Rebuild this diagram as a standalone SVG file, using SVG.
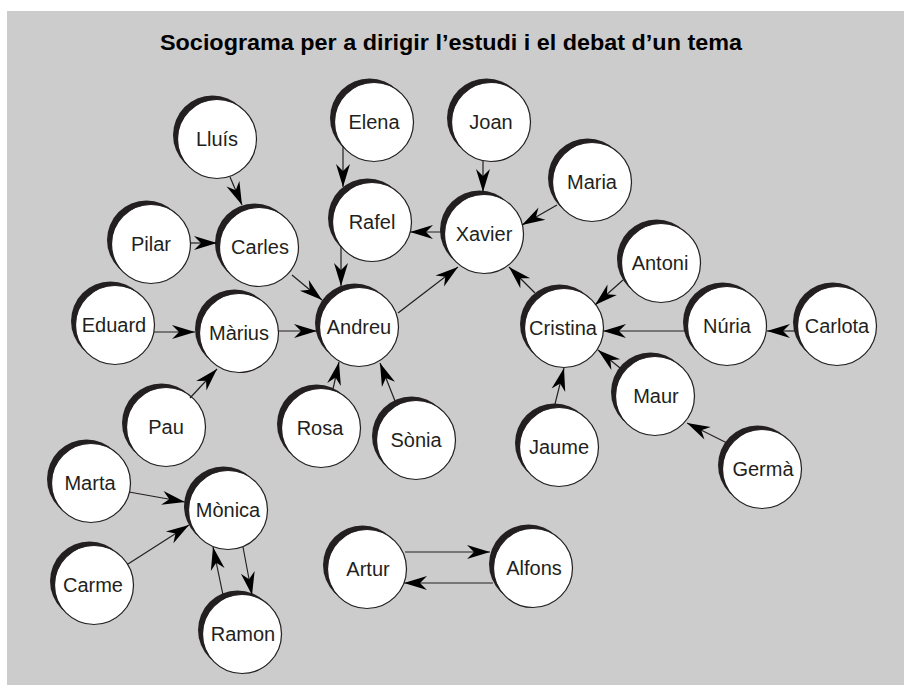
<svg xmlns="http://www.w3.org/2000/svg" width="904" height="685" viewBox="0 0 904 685">
<style>
.sh{fill:#231f20}
.wc{fill:#ffffff;stroke:#231f20;stroke-width:1.2}
.lb{font-family:"Liberation Sans",Arial,sans-serif;font-size:20px;fill:#231f20;text-anchor:middle}
.ttl{font-family:"Liberation Sans",Arial,sans-serif;font-size:22px;font-weight:bold;fill:#000;text-anchor:middle}
.cn line{stroke:#231f20;stroke-width:1.2;marker-end:url(#ah)}
</style>
<defs>
<marker id="ah" markerUnits="userSpaceOnUse" viewBox="-24 -8 25 16" refX="0" refY="0" markerWidth="25" markerHeight="16" orient="auto">
<path d="M0,0 L-23,-7 L-16,0 L-23,7 Z" fill="#000"/>
</marker>
<g id="nd"><circle class="sh" cx="-4.5" cy="-4" r="39.5"/><circle class="wc" cx="0" cy="0" r="39.5"/></g>
</defs>
<rect x="0" y="0" width="904" height="685" fill="#ffffff"/>
<rect x="7" y="11" width="897" height="674" fill="#cccccc"/>
<text class="ttl" x="451" y="50" textLength="582" lengthAdjust="spacingAndGlyphs">Sociograma per a dirigir l’estudi i el debat d’un tema</text>

<g id="nodes">
<g id="n-lluis"><use href="#nd" x="217" y="139"/><text class="lb" x="217" y="146">Lluís</text></g>
<g id="n-elena"><use href="#nd" x="374" y="122"/><text class="lb" x="374" y="129">Elena</text></g>
<g id="n-joan"><use href="#nd" x="491" y="122"/><text class="lb" x="491" y="129">Joan</text></g>
<g id="n-maria"><use href="#nd" x="592" y="182"/><text class="lb" x="592" y="189">Maria</text></g>
<g id="n-pilar"><use href="#nd" x="151" y="244"/><text class="lb" x="151" y="251">Pilar</text></g>
<g id="n-carles"><use href="#nd" x="259" y="247"/><text class="lb" x="260" y="254">Carles</text></g>
<g id="n-rafel"><use href="#nd" x="372" y="222"/><text class="lb" x="372" y="229">Rafel</text></g>
<g id="n-xavier"><use href="#nd" x="484" y="234"/><text class="lb" x="484" y="241">Xavier</text></g>
<g id="n-antoni"><use href="#nd" x="661" y="263"/><text class="lb" x="660" y="270">Antoni</text></g>
<g id="n-eduard"><use href="#nd" x="115" y="325"/><text class="lb" x="114" y="332">Eduard</text></g>
<g id="n-marius"><use href="#nd" x="239" y="333"/><text class="lb" x="239" y="340">Màrius</text></g>
<g id="n-andreu"><use href="#nd" x="359" y="327"/><text class="lb" x="359" y="334">Andreu</text></g>
<g id="n-cristina"><use href="#nd" x="564" y="328"/><text class="lb" x="563" y="335">Cristina</text></g>
<g id="n-nuria"><use href="#nd" x="727" y="326"/><text class="lb" x="727" y="333">Núria</text></g>
<g id="n-carlota"><use href="#nd" x="837" y="326"/><text class="lb" x="837" y="333">Carlota</text></g>
<g id="n-pau"><use href="#nd" x="166" y="427"/><text class="lb" x="166" y="434">Pau</text></g>
<g id="n-rosa"><use href="#nd" x="321" y="428"/><text class="lb" x="320" y="435">Rosa</text></g>
<g id="n-sonia"><use href="#nd" x="416" y="440"/><text class="lb" x="416" y="447">Sònia</text></g>
<g id="n-maur"><use href="#nd" x="655" y="396"/><text class="lb" x="656" y="403">Maur</text></g>
<g id="n-jaume"><use href="#nd" x="559" y="447"/><text class="lb" x="559" y="454">Jaume</text></g>
<g id="n-germa"><use href="#nd" x="762" y="469"/><text class="lb" x="763" y="476">Germà</text></g>
<g id="n-marta"><use href="#nd" x="91" y="483"/><text class="lb" x="90" y="490">Marta</text></g>
<g id="n-monica"><use href="#nd" x="228" y="510"/><text class="lb" x="228" y="517">Mònica</text></g>
<g id="n-carme"><use href="#nd" x="94" y="585"/><text class="lb" x="93" y="592">Carme</text></g>
<g id="n-ramon"><use href="#nd" x="242" y="634"/><text class="lb" x="243" y="641">Ramon</text></g>
<g id="n-artur"><use href="#nd" x="367" y="569"/><text class="lb" x="368" y="576">Artur</text></g>
<g id="n-alfons"><use href="#nd" x="533" y="568"/><text class="lb" x="534" y="575">Alfons</text></g>
</g>

<g id="connectors" class="cn">
<line x1="230" y1="177" x2="242" y2="205"/>
<line x1="190" y1="243" x2="217" y2="243"/>
<line x1="292" y1="275" x2="322" y2="300"/>
<line x1="343" y1="146" x2="343" y2="187"/>
<line x1="341" y1="246" x2="341" y2="286"/>
<line x1="483" y1="161" x2="483" y2="192"/>
<line x1="557" y1="205" x2="522" y2="225"/>
<line x1="445" y1="232" x2="410" y2="232"/>
<line x1="398" y1="313" x2="458" y2="267"/>
<line x1="154" y1="332" x2="195" y2="332"/>
<line x1="278" y1="331" x2="317" y2="331"/>
<line x1="190" y1="398" x2="217" y2="369"/>
<line x1="333" y1="389" x2="339" y2="362"/>
<line x1="395" y1="401" x2="380" y2="363"/>
<line x1="535" y1="293" x2="509" y2="267"/>
<line x1="623" y1="280" x2="595" y2="305"/>
<line x1="686" y1="331" x2="603" y2="331"/>
<line x1="796" y1="331" x2="767" y2="331"/>
<line x1="620" y1="368" x2="598" y2="350"/>
<line x1="554" y1="408" x2="564" y2="368"/>
<line x1="727" y1="443" x2="687" y2="423"/>
<line x1="129" y1="492" x2="185" y2="502"/>
<line x1="128" y1="564" x2="189" y2="525"/>
<line x1="243" y1="547" x2="252" y2="595"/>
<line x1="223" y1="595" x2="213" y2="547"/>
<line x1="405" y1="552" x2="490" y2="552"/>
<line x1="493" y1="583" x2="404" y2="583"/>
</g>
</svg>
